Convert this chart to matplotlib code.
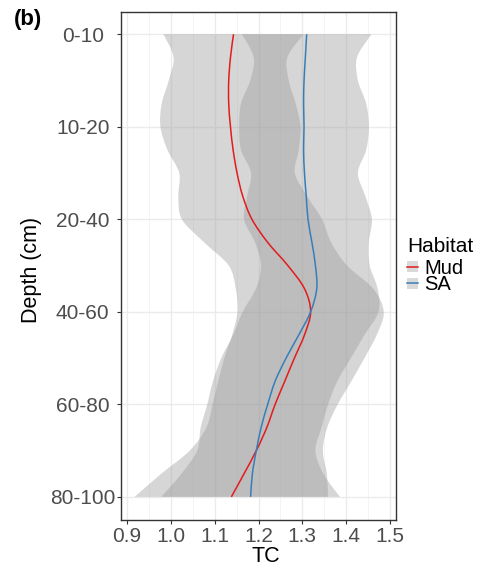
import matplotlib
matplotlib.use('Agg')
import matplotlib.pyplot as plt
from matplotlib.patches import PathPatch, Rectangle
from matplotlib.path import Path
from matplotlib.lines import Line2D
import numpy as np

plt.rcParams['font.family'] = ['Liberation Sans', 'DejaVu Sans']

# Depth classes (top to bottom)
depth_labels = ['0-10', '10-20', '20-40', '40-60', '60-80', '80-100']

# Smoothed TC along the depth axis (position 1 = 0-10 ... 6 = 80-100)
depth_pos = [1.0, 1.25, 1.5, 1.75, 2.0, 2.25, 2.5, 2.75, 3.0, 3.25, 3.5,
             3.75, 4.0, 4.25, 4.5, 4.75, 5.0, 5.25, 5.5, 5.75, 6.0]

mud_fit = [1.143, 1.136, 1.132, 1.132, 1.136, 1.142, 1.151, 1.164, 1.185, 1.221, 1.267,
           1.305, 1.319, 1.305, 1.282, 1.260, 1.238, 1.219, 1.195, 1.167, 1.138]
mud_ci = [0.160, 0.130, 0.137, 0.153, 0.160, 0.150, 0.132, 0.147, 0.160, 0.145, 0.135,
          0.157, 0.167, 0.165, 0.160, 0.152, 0.143, 0.138, 0.152, 0.189, 0.221]

sa_fit = [1.310, 1.307, 1.304, 1.303, 1.304, 1.303, 1.305, 1.309, 1.313, 1.322, 1.330,
          1.333, 1.319, 1.292, 1.263, 1.238, 1.221, 1.206, 1.195, 1.186, 1.182]
sa_ci = [0.148, 0.118, 0.123, 0.143, 0.148, 0.143, 0.122, 0.135, 0.146, 0.130, 0.124,
         0.139, 0.155, 0.150, 0.148, 0.142, 0.138, 0.138, 0.135, 0.162, 0.204]

habitats = ['Mud', 'SA']
colores = {'Mud': '#E41A1C', 'SA': '#377EB8'}

W, H = 491, 575


def curva(xs, ys):
    # camino Bezier (Catmull-Rom) que pasa por los puntos dados
    pts = np.column_stack([xs, ys])
    ext = np.vstack([pts[0], pts, pts[-1]])
    verts = [pts[0]]
    codes = [Path.MOVETO]
    for i in range(len(pts) - 1):
        p0, p1, p2, p3 = ext[i], ext[i + 1], ext[i + 2], ext[i + 3]
        verts += [p1 + (p2 - p0) / 6, p2 - (p3 - p1) / 6, p2]
        codes += [Path.CURVE4] * 3
    return verts, codes


def banda(lo, hi, ys):
    v1, c1 = curva(hi, ys)
    v2, c2 = curva(lo[::-1], ys[::-1])
    c2[0] = Path.LINETO
    return Path(v1 + v2 + [v1[0]], c1 + c2 + [Path.CLOSEPOLY])


def fx(px):
    return px / W


def fy(py):
    return 1 - py / H


fig = plt.figure(figsize=(W / 100, H / 100), dpi=100)
ax = fig.add_axes([fx(121), fy(520), 275 / W, 508 / H])

y = np.array(depth_pos)
series = [('Mud', np.array(mud_fit), np.array(mud_ci)),
          ('SA', np.array(sa_fit), np.array(sa_ci))]
for hab, fit, ci in series:
    ax.add_patch(PathPatch(banda(fit - ci, fit + ci, y), facecolor='#999999',
                           alpha=0.4, lw=0, zorder=2))
for hab, fit, ci in series:
    v, c = curva(fit, y)
    ax.add_patch(PathPatch(Path(v, c), fill=False, edgecolor=colores[hab],
                           lw=1.1, zorder=3))

# ejes
ax.set_xlim(0.886, 1.514)
ax.set_ylim(6.25, 0.76)
ax.set_xticks([0.9, 1.0, 1.1, 1.2, 1.3, 1.4, 1.5])
ax.set_xticks([0.95, 1.05, 1.15, 1.25, 1.35, 1.45], minor=True)
ax.set_yticks(range(1, 7))
ax.set_yticklabels(depth_labels)
for lab in ax.get_yticklabels():
    lab.set_horizontalalignment('center')

ax.grid(True, which='major', color='#EBEBEB', lw=1.0, zorder=0)
ax.grid(True, which='minor', axis='x', color='#F2F2F2', lw=0.6, zorder=0)
ax.set_axisbelow(True)
for s in ax.spines.values():
    s.set_color('#333333')
    s.set_linewidth(1.0)
ax.tick_params(which='major', labelsize=15, labelcolor='#4D4D4D', color='#333333',
               length=3, width=0.8)
ax.tick_params(axis='x', which='major', pad=2)
ax.tick_params(axis='y', which='major', pad=24.5)
ax.tick_params(which='minor', length=0)

ax.set_xlabel('TC', fontsize=15.5)
ax.set_ylabel('Depth (cm)', fontsize=15.5)
ax.xaxis.set_label_coords((266 - 121) / 275, -(556 - 520) / 508)
ax.yaxis.set_label_coords(-(121 - 31) / 275, (520 - 270) / 508)
ax.xaxis.label.set_va('center')
ax.yaxis.label.set_va('center')

fig.text(fx(14), fy(20), '(b)', fontsize=16, fontweight='bold', va='center', ha='left')

# leyenda
fig.text(fx(407), fy(251.5), 'Habitat', fontsize=15, va='baseline', ha='left')
for hab, yc in [('Mud', 266.7), ('SA', 283.3)]:
    fig.add_artist(Rectangle((fx(407), fy(yc + 5.8)), 10.5 / W, 11.6 / H,
                             transform=fig.transFigure, facecolor='#D9D9D9', lw=0))
    fig.add_artist(Line2D([fx(407), fx(417.5)], [fy(yc), fy(yc)],
                          transform=fig.transFigure, color=colores[hab], lw=1.1))
    fig.text(fx(424), fy(yc + 6.8), hab, fontsize=14.5, va='baseline', ha='left')

fig.savefig('out.png', dpi=100)
